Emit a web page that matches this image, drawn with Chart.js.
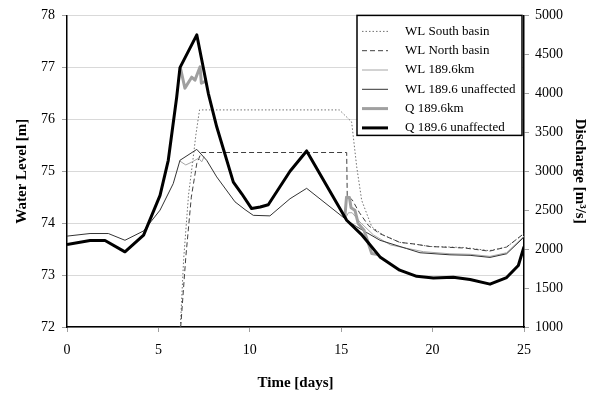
<!DOCTYPE html>
<html>
<head>
<meta charset="utf-8">
<script src="https://cdn.jsdelivr.net/npm/chart.js@4.4.1/dist/chart.umd.min.js"></script>
<style>
  html, body { margin: 0; padding: 0; background: #fff; }
  #wrap { width: 598px; height: 396px; }
</style>
</head>
<body>
<div id="wrap"><canvas id="flowChart" width="598" height="396"></canvas></div>
<script>
// Water levels (left axis, m) and discharge (right axis, m3/s) against time in days

const southDays = [6.2, 6.38, 6.65, 6.9, 7.05, 7.25, 14.9, 15.57, 15.85, 16.12, 16.67, 17.3, 18.2, 18.95, 19.86, 20.95, 21.77, 23.1, 24.05, 25];
const southWL = [72.0, 73.3, 74.55, 75.25, 75.7, 76.18, 76.18, 75.95, 75.08, 74.44, 73.93, 73.77, 73.63, 73.6, 73.55, 73.54, 73.53, 73.47, 73.54, 73.8];

const northDays = [6.22, 6.5, 6.8, 7.1, 7.35, 15.3, 15.33, 15.6, 16.0, 16.5, 17.1, 18.2, 18.95, 19.86, 21.77, 23.1, 24.05, 25];
const northWL = [72.0, 73.35, 74.5, 75.15, 75.36, 75.36, 74.52, 74.45, 74.2, 73.95, 73.8, 73.63, 73.6, 73.55, 73.52, 73.46, 73.54, 73.8];

// WL 189.6km only shows where it leaves the unaffected line
const kmDaysA = [6.15, 6.5, 6.85, 7.2, 7.37, 7.5];
const kmWLA = [75.2, 75.12, 75.18, 75.25, 75.18, 75.28];
const kmDaysB = [15.2, 15.4, 15.6, 16.03, 16.77, 17.7, 19.5, 20.95, 22.05, 23.14, 24.05, 25];
const kmWLB = [74.08, 74.2, 74.2, 74.02, 73.77, 73.58, 73.45, 73.41, 73.4, 73.36, 73.43, 73.75];

const unaffDays = [0, 1.26, 2.26, 3.17, 4.19, 5.09, 5.81, 6.18, 7.1, 7.64, 8.19, 9.19, 9.74, 10.19, 11.1, 12.2, 13.11, 15.3, 15.85, 17.12, 18.58, 19.31, 20.95, 22.05, 23.14, 24.05, 25];
const unaffWL = [73.75, 73.8, 73.8, 73.67, 73.85, 74.25, 74.76, 75.21, 75.42, 75.21, 74.89, 74.41, 74.26, 74.15, 74.14, 74.47, 74.67, 74.06, 73.93, 73.67, 73.51, 73.43, 73.39, 73.38, 73.34, 73.41, 73.73];

// Q 189.6km, visible parts only
const qKmDaysA = [6.2, 6.45, 6.82, 7.0, 7.28, 7.35, 7.6];
const qKmA = [4330, 4066, 4207, 4169, 4340, 4130, 4155];
const qKmDaysB = [15.2, 15.29, 15.45, 15.54, 15.75, 15.93, 16.25, 16.67, 17.0];
const qKmB = [2410, 2666, 2662, 2531, 2499, 2328, 2242, 1943, 1930];

const qUnaffDays = [0, 1.26, 2.08, 3.17, 4.19, 5.09, 5.54, 6.0, 6.18, 7.1, 7.37, 7.73, 8.19, 9.1, 9.56, 10.1, 10.57, 11.01, 12.2, 13.11, 15.3, 16.1, 17.12, 18.2, 19.13, 20.04, 21.13, 22.05, 23.14, 24.05, 24.69, 25];
const qUnaff = [2060, 2110, 2110, 1965, 2180, 2690, 3140, 3950, 4330, 4750, 4430, 4000, 3570, 2860, 2710, 2520, 2540, 2570, 3000, 3260, 2370, 2190, 1900, 1730, 1650, 1630, 1640, 1610, 1550, 1635, 1790, 2030];

const seriesLabels = ['WL South basin', 'WL North basin', 'WL 189.6km', 'WL 189.6 unaffected', 'Q 189.6km', 'Q 189.6 unaffected'];

const serif = '"Liberation Serif", "Times New Roman", serif';

const toPoints = (days, vals) => days.map((d, i) => ({ x: d, y: vals[i] }));
// a null point breaks the line between the two visible pieces
const joinParts = (a, b) => [...a, { x: (a[a.length - 1].x + b[0].x) / 2, y: null }, ...b];

// legend drawn by hand: boxed, inside the plot, top right
const legendBox = {
    id: 'legendBox',
    afterDraw(chart) {
        const ctx = chart.ctx;
        const area = chart.chartArea;
        const w = 165, h = 120;
        const x0 = area.right - w - 2, y0 = area.top;
        ctx.save();
        ctx.fillStyle = '#fff';
        ctx.fillRect(x0, y0, w, h);
        ctx.strokeStyle = '#000';
        ctx.lineWidth = 1.5;
        ctx.strokeRect(x0, y0, w, h);
        ctx.font = '13px ' + serif;
        ctx.textBaseline = 'middle';
        chart.data.datasets.forEach((ds, i) => {
            const y = y0 + 16 + i * 19.3;
            ctx.beginPath();
            ctx.setLineDash(ds.borderDash || []);
            ctx.strokeStyle = ds.borderColor;
            ctx.lineWidth = ds.borderWidth;
            ctx.moveTo(x0 + 5, y);
            ctx.lineTo(x0 + 31, y);
            ctx.stroke();
            ctx.setLineDash([]);
            ctx.fillStyle = '#000';
            ctx.fillText(ds.label, x0 + 48, y);
        });
        ctx.restore();
    }
};

const plainNumber = (value) => String(value);

const ctx = document.getElementById('flowChart').getContext('2d');

new Chart(ctx, {
    type: 'line',
    data: {
        datasets: [
            {
                label: seriesLabels[0],
                data: toPoints(southDays, southWL),
                yAxisID: 'y',
                borderColor: '#707070',
                borderWidth: 1,
                borderDash: [1.5, 2],
                order: 6
            },
            {
                label: seriesLabels[1],
                data: toPoints(northDays, northWL),
                yAxisID: 'y',
                borderColor: '#404040',
                borderWidth: 1,
                borderDash: [5, 3],
                order: 5
            },
            {
                label: seriesLabels[2],
                data: joinParts(toPoints(kmDaysA, kmWLA), toPoints(kmDaysB, kmWLB)),
                yAxisID: 'y',
                borderColor: '#a6a6a6',
                borderWidth: 1,
                order: 4
            },
            {
                label: seriesLabels[3],
                data: toPoints(unaffDays, unaffWL),
                yAxisID: 'y',
                borderColor: '#333333',
                borderWidth: 1,
                order: 3
            },
            {
                label: seriesLabels[4],
                data: joinParts(toPoints(qKmDaysA, qKmA), toPoints(qKmDaysB, qKmB)),
                yAxisID: 'y2',
                borderColor: '#a0a0a0',
                borderWidth: 3,
                order: 2
            },
            {
                label: seriesLabels[5],
                data: toPoints(qUnaffDays, qUnaff),
                yAxisID: 'y2',
                borderColor: '#000000',
                borderWidth: 3,
                order: 1
            }
        ]
    },
    options: {
        responsive: false,
        animation: false,
        spanGaps: false,
        layout: { padding: { top: 15, left: 0, right: 0, bottom: 0 } },
        elements: {
            point: { radius: 0 },
            line: { tension: 0, fill: false, borderJoinStyle: 'round' }
        },
        plugins: {
            legend: { display: false },
            tooltip: { enabled: false }
        },
        scales: {
            x: {
                type: 'linear',
                min: 0,
                max: 25,
                afterFit: (scale) => { scale.height = 69; },
                ticks: { stepSize: 5, color: '#000', font: { family: serif, size: 14 }, padding: 10, maxRotation: 0, callback: plainNumber },
                grid: { drawOnChartArea: false, tickLength: 5, color: '#a0a0a0' },
                border: { color: '#000', width: 1.5 },
                title: {
                    display: true,
                    text: 'Time [days]',
                    color: '#000',
                    font: { family: serif, size: 15, weight: 'bold' },
                    padding: { top: 0, bottom: 4 }
                }
            },
            y: {
                position: 'left',
                min: 72,
                max: 78,
                afterFit: (scale) => { scale.width = 67; },
                ticks: { stepSize: 1, color: '#000', font: { family: serif, size: 14 }, padding: 7, callback: plainNumber },
                grid: { color: '#d9d9d9', tickLength: 5, tickColor: '#a0a0a0' },
                border: { color: '#000', width: 1.5 },
                title: {
                    display: true,
                    text: 'Water Level [m]',
                    color: '#000',
                    font: { family: serif, size: 15, weight: 'bold' },
                    padding: { top: 13, bottom: 0 }
                }
            },
            y2: {
                position: 'right',
                min: 1000,
                max: 5000,
                afterFit: (scale) => { scale.width = 74; },
                ticks: { stepSize: 500, color: '#000', font: { family: serif, size: 14 }, padding: 6, callback: plainNumber },
                grid: { drawOnChartArea: false, tickLength: 5, color: '#a0a0a0' },
                border: { color: '#000', width: 1.5 },
                title: {
                    display: true,
                    text: 'Discharge [m³/s]',
                    color: '#000',
                    font: { family: serif, size: 15, weight: 'bold' },
                    padding: { top: 9, bottom: 0 }
                }
            }
        }
    },
    plugins: [legendBox]
});
</script>
</body>
</html>
